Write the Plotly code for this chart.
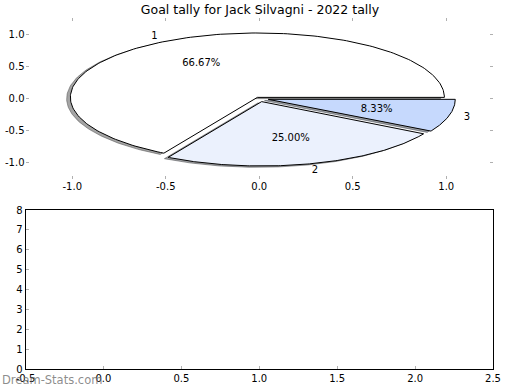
import numpy as np
import plotly.graph_objects as go

# ---- data ----
labels = ["1", "2", "3"]
values = [8, 3, 1]
explode = [0.02, 0.05, 0.05]
colors = ["#ffffff", "#ebf1fd", "#c6d9fd"]
title = "Goal tally for Jack Silvagni - 2022 tally"
x_ticks_top = [-1.0, -0.5, 0.0, 0.5, 1.0]
y_ticks_top = [-1.0, -0.5, 0.0, 0.5, 1.0]
x_ticks_bot = [-0.5, 0.0, 0.5, 1.0, 1.5, 2.0, 2.5]
y_ticks_bot = [0, 1, 2, 3, 4, 5, 6, 7, 8]

W, H = 520, 390
FONT = "DejaVu Sans"

fig = go.Figure()

total = float(sum(values))
fracs = [v / total for v in values]


def hex_rgb(h):
    h = h.lstrip("#")
    return tuple(int(h[i:i + 2], 16) for i in (0, 2, 4))


wedges = []
t1 = 0.0
for lab, fr, ex, col in zip(labels, fracs, explode, colors):
    t2 = t1 + 360.0 * fr
    mid = np.deg2rad((t1 + t2) / 2)
    cx, cy = ex * np.cos(mid), ex * np.sin(mid)
    th = np.deg2rad(np.linspace(t1, t2, 200))
    xs = np.concatenate([[cx], cx + np.cos(th), [cx]])
    ys = np.concatenate([[cy], cy + np.sin(th), [cy]])
    wedges.append((lab, fr, col, xs, ys, cx, cy, mid))
    t1 = t2

# shadows
for lab, fr, col, xs, ys, cx, cy, mid in wedges:
    r, g, b = hex_rgb(col)
    sc = "rgba(%d,%d,%d,0.5)" % (int(r * 0.3), int(g * 0.3), int(b * 0.3))
    fig.add_trace(go.Scatter(x=xs - 0.02, y=ys - 0.02, mode="lines", fill="toself",
                             fillcolor=sc, line=dict(color=sc, width=1),
                             hoverinfo="skip", showlegend=False, xaxis="x", yaxis="y"))
# wedges
for lab, fr, col, xs, ys, cx, cy, mid in wedges:
    fig.add_trace(go.Scatter(x=xs, y=ys, mode="lines", fill="toself",
                             fillcolor=col, line=dict(color="black", width=1),
                             hoverinfo="skip", showlegend=False, xaxis="x", yaxis="y"))
# texts
for lab, fr, col, xs, ys, cx, cy, mid in wedges:
    fig.add_trace(go.Scatter(x=[cx + 0.6 * np.cos(mid)], y=[cy + 0.6 * np.sin(mid)],
                             mode="text", text=["%.2f%%" % (fr * 100)],
                             textfont=dict(family=FONT, size=10, color="black"),
                             hoverinfo="skip", showlegend=False, xaxis="x", yaxis="y"))
    fig.add_trace(go.Scatter(x=[cx + 1.1 * np.cos(mid)], y=[cy + 1.1 * np.sin(mid)],
                             mode="text", text=[lab],
                             textfont=dict(family=FONT, size=10, color="black"),
                             hoverinfo="skip", showlegend=False, xaxis="x", yaxis="y"))

# empty bottom axes
fig.add_trace(go.Scatter(x=[None], y=[None], mode="markers", showlegend=False,
                         xaxis="x2", yaxis="y2"))

dom_x = [25.5 / W, 493 / W]
tick_common = dict(ticks="inside", ticklen=3, tickcolor="#b0b0b0", tickwidth=1,
                   showgrid=False, zeroline=False, automargin=False,
                   tickfont=dict(family=FONT, size=10, color="black"))

fig.update_layout(
    template="none",
    width=W, height=H,
    margin=dict(l=0, r=0, t=0, b=0, pad=0),
    paper_bgcolor="white", plot_bgcolor="white",
    title=dict(text=title, x=0.5, xanchor="center", y=1 - 10 / H, yanchor="middle",
               font=dict(family=FONT, size=12.5, color="black")),
    xaxis=dict(domain=dom_x, range=[-1.25, 1.25], tickvals=x_ticks_top,
               ticktext=["%.1f" % v for v in x_ticks_top], showline=False,
               mirror="ticks", anchor="y", **tick_common),
    yaxis=dict(domain=[1 - 179 / H, 1 - 18 / H], range=[-1.25, 1.25], tickvals=y_ticks_top,
               ticktext=["%.1f" % v for v in y_ticks_top], showline=False,
               mirror="ticks", anchor="x", **tick_common),
    xaxis2=dict(domain=dom_x, range=[-0.5, 2.5], tickvals=x_ticks_bot,
                ticktext=["%.1f" % v for v in x_ticks_bot], showline=True, linecolor="black",
                linewidth=1, mirror=True, anchor="y2", **tick_common),
    yaxis2=dict(domain=[1 - 369 / H, 1 - 210 / H], range=[0, 8], tickvals=y_ticks_bot,
                showline=True, linecolor="black", linewidth=1, mirror=True, anchor="x2",
                **tick_common),
    annotations=[dict(text="Dream-Stats.com", xref="paper", yref="paper", x=0, y=1 - 380 / H,
                      xanchor="left", yanchor="middle", showarrow=False,
                      font=dict(family=FONT, size=11.5, color="rgba(120,120,120,0.85)"))],
)

fig.write_html("out.html", config={"displayModeBar": False},
               post_script="document.body.style.margin='0';")
